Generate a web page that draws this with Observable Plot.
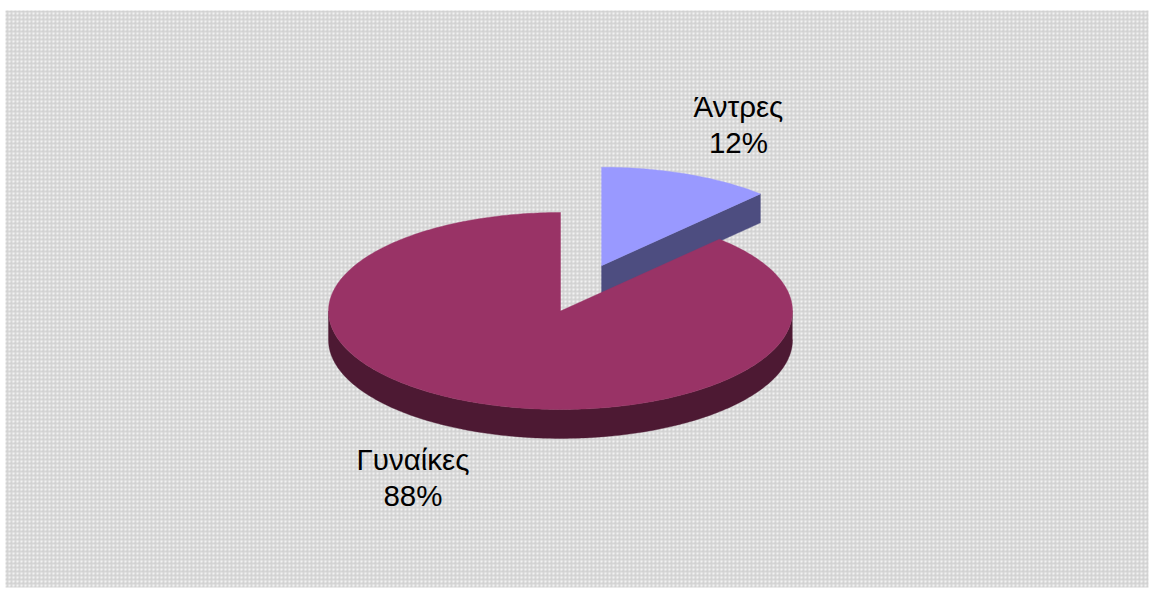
<!DOCTYPE html>
<html lang="el">
<head>
<meta charset="utf-8">
<script src="https://cdn.jsdelivr.net/npm/d3@7"></script>
<script src="https://cdn.jsdelivr.net/npm/@observablehq/plot@0.6"></script>
<style>
  html, body { margin: 0; padding: 0; background: #fff; }
  #chart svg { display: block; }
</style>
</head>
<body>
<!-- Dithered grey tile behind the pie -->
<svg width="0" height="0" style="position:absolute">
  <defs>
    <pattern id="panel-texture" width="4" height="4" patternUnits="userSpaceOnUse">
      <rect width="4" height="4" fill="#d6d6d6"/>
      <rect x="0" y="0" width="2" height="2" fill="#f2f2f2"/>
      <rect x="2" y="2" width="1" height="1" fill="#c6c6c6"/>
    </pattern>
  </defs>
</svg>
<div id="chart"></div>
<script>
const categories = ["Άντρες", "Γυναίκες"];
const shares = [12, 88];
const topColors = ["#9999ff", "#993366"];
const wallColors = ["#4d4d80", "#4d1933"];

// Disc thickness and the pull-out of the first slice, in radius units
const depth = 0.294;
const pullX = 0.177;
const pullY = 0.46;

const labelX = [0.767, -0.636];
const labelY = [1.906, -1.676];

const total = d3.sum(shares);
const turn = (share) => (share / total) * 2 * Math.PI;
const firstEnd = turn(shares[0]);

// Point on the rim; angles run clockwise from twelve o'clock
const rim = (a, dx = 0, dy = 0) => ({ x: Math.sin(a) + dx, y: Math.cos(a) + dy });
const arc = (a0, a1, dx = 0, dy = 0) => {
  const n = Math.max(2, Math.ceil(Math.abs(a1 - a0) * 60));
  return d3.range(n + 1).map((i) => rim(a0 + ((a1 - a0) * i) / n, dx, dy));
};

// First slice: pulled-out wedge with its visible cut face
const apex = { x: pullX, y: pullY };
const edge = rim(firstEnd, pullX, pullY);
const sliceTop = [apex, ...arc(0, firstEnd, pullX, pullY), apex];
const sliceWall = [
  apex,
  edge,
  { x: edge.x, y: edge.y - depth },
  { x: apex.x, y: apex.y - depth },
  apex
];

// Second slice: the rest of the disc, with the front half of its rim wall
const mainTop = [{ x: 0, y: 0 }, ...arc(firstEnd, 2 * Math.PI), { x: 0, y: 0 }];
const mainWall = [
  ...arc(Math.PI / 2, (3 * Math.PI) / 2),
  ...arc((3 * Math.PI) / 2, Math.PI / 2, 0, -depth)
];

const labels = categories.map((name, i) => ({
  text: `${name}\n${shares[i]}%`,
  x: labelX[i],
  y: labelY[i]
}));

const outline = (pts, fill) =>
  Plot.line(pts, { x: "x", y: "y", fill, stroke: fill, strokeWidth: 0.4, curve: "linear" });

const chart = Plot.plot({
  width: 1153,
  height: 589,
  margin: 0,
  x: { domain: [-1, 1], range: [328, 792], axis: null },
  y: { domain: [-1, 1], range: [409, 212], axis: null },
  style: { background: "#fff" },
  marks: [
    Plot.frame({
      fill: "url(#panel-texture)",
      stroke: "none",
      insetLeft: 5,
      insetRight: 5,
      insetTop: 10,
      insetBottom: 2
    }),
    outline(sliceWall, wallColors[0]),
    outline(sliceTop, topColors[0]),
    outline(mainWall, wallColors[1]),
    outline(mainTop, topColors[1]),
    Plot.text(labels, {
      x: "x",
      y: "y",
      text: "text",
      fontSize: 29.5,
      lineHeight: 1.22,
      fontFamily: "Liberation Sans",
      fill: "#000",
      textAnchor: "middle"
    })
  ]
});
document.getElementById("chart").append(chart);
</script>
</body>
</html>
